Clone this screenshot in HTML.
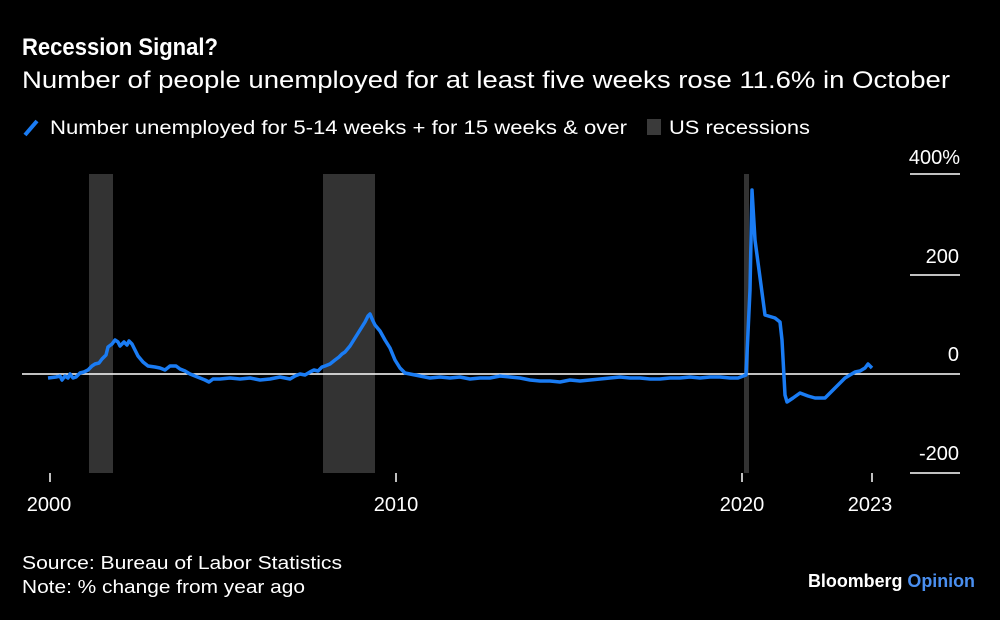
<!DOCTYPE html>
<html><head><meta charset="utf-8"><style>
body{margin:0;background:#000;width:1000px;height:615px;overflow:hidden;font-family:"Liberation Sans",sans-serif;color:#fff}
</style></head><body>
<svg width="1000" height="615" xmlns="http://www.w3.org/2000/svg" font-family="Liberation Sans, sans-serif" fill="#fff">
<text x="22" y="55" font-size="24" font-weight="bold" textLength="196" lengthAdjust="spacingAndGlyphs">Recession Signal?</text>
<text x="22" y="88" font-size="24" textLength="928" lengthAdjust="spacingAndGlyphs">Number of people unemployed for at least five weeks rose 11.6% in October</text>
<line x1="25" y1="135" x2="37" y2="121" stroke="#1a7cf4" stroke-width="4"/>
<text x="50" y="134" font-size="19" textLength="577" lengthAdjust="spacingAndGlyphs">Number unemployed for 5-14 weeks + for 15 weeks &amp; over</text>
<rect x="647" y="119" width="14" height="16" fill="#3a3a3a"/>
<text x="669" y="134" font-size="19" textLength="141" lengthAdjust="spacingAndGlyphs">US recessions</text>
<rect x="89" y="174" width="24" height="299" fill="#333"/>
<rect x="323" y="174" width="52" height="299" fill="#333"/>
<rect x="744" y="174" width="5" height="299" fill="#333"/>
<g stroke="#fff" stroke-width="1.5">
<line x1="910" y1="174" x2="960" y2="174"/><line x1="910" y1="275" x2="960" y2="275"/>
<line x1="910" y1="473" x2="960" y2="473"/><line x1="22" y1="374" x2="960" y2="374"/>
<line x1="50" y1="473" x2="50" y2="482"/><line x1="396" y1="473" x2="396" y2="482"/>
<line x1="742" y1="473" x2="742" y2="482"/><line x1="872" y1="473" x2="872" y2="482"/>
</g>
<g font-size="20" text-anchor="end">
<text x="960" y="164">400%</text><text x="959" y="263">200</text><text x="959" y="361">0</text><text x="959" y="460">-200</text>
</g>
<g font-size="20" text-anchor="middle">
<text x="49" y="511">2000</text><text x="396" y="511">2010</text><text x="742" y="511">2020</text><text x="870" y="511">2023</text>
</g>
<polyline fill="none" stroke="#1a7cf4" stroke-width="3.5" stroke-linejoin="round" points="48,378 56,377 60,376 62,380 65,376 68,378 70,374 73,378 76,377 80,373 84,372 88,370 92,366 95,364 99,363 102,359 106,355 108,347 112,344 115,340 118,342 120,346 124,342 127,345 129,341 132,344 135,350 138,356 143,362 148,366 155,367 160,368 165,370 170,366 176,366 180,369 185,371 190,374 195,376 200,378 205,380 209,382 213,379 220,379 230,378 240,379 250,378 260,380 270,379 280,377 290,379 295,376 300,374 305,375 310,372 314,370 318,371 322,367 325,366 330,364 335,360 339,357 342,354 345,352 350,346 355,338 360,330 365,322 368,316 370,314 373,321 375,325 380,331 385,340 390,348 395,360 400,368 405,373 410,374 415,375 420,376 430,378 440,377 450,378 460,377 470,379 480,378 490,378 500,376 510,377 520,378 530,380 540,381 550,381 560,382 570,380 580,381 590,380 600,379 610,378 620,377 630,378 640,378 650,379 660,379 670,378 680,378 690,377 700,378 710,377 720,377 730,378 738,378 746,375 750,290 752,190 755,240 765,315 775,318 780,322 782,340 785,395 787,402 793,398 800,393 808,396 815,398 825,398 835,388 845,378 850,375 855,372 860,371 865,368 868,364 872,368"/>
<text x="22" y="569" font-size="18" textLength="320" lengthAdjust="spacingAndGlyphs">Source: Bureau of Labor Statistics</text>
<text x="22" y="593" font-size="18" textLength="283" lengthAdjust="spacingAndGlyphs">Note: % change from year ago</text>
<text x="808" y="587" font-size="18" font-weight="bold" textLength="167" lengthAdjust="spacingAndGlyphs">Bloomberg <tspan fill="#4a8ff0">Opinion</tspan></text>
</svg>
</body></html>
